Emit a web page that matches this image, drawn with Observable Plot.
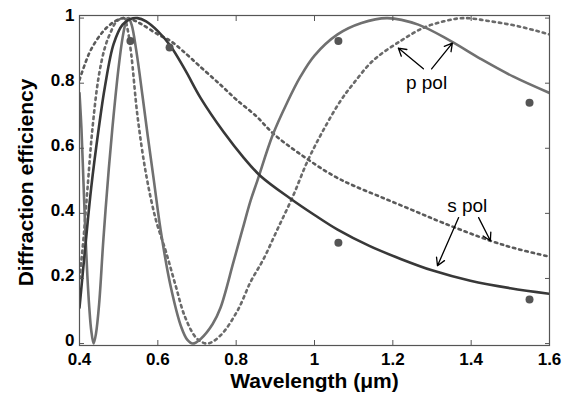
<!DOCTYPE html>
<html>
<head>
<meta charset="utf-8">
<script src="https://cdn.jsdelivr.net/npm/d3@7"></script>
<script src="https://cdn.jsdelivr.net/npm/@observablehq/plot@0.6"></script>
<style>
  html, body { margin: 0; padding: 0; background: white; }
</style>
</head>
<body>
<div id="chart"></div>
<script>
// wavelength (µm), diffraction efficiency
const sSolid = [[0.4,0.11],[0.415,0.3],[0.43,0.48],[0.449,0.66],[0.465,0.79],[0.487,0.92],[0.51,0.98],[0.53,0.997],[0.548,1.0],[0.57,0.99],[0.6,0.96],[0.632,0.915],[0.67,0.84],[0.709,0.755],[0.768,0.65],[0.82,0.57],[0.862,0.515],[0.939,0.445],[1.0,0.395],[1.059,0.35],[1.14,0.3],[1.22,0.26],[1.3,0.225],[1.398,0.193],[1.5,0.17],[1.6,0.153]];
const sDotted = [[0.4,0.81],[0.428,0.9],[0.461,0.96],[0.49,0.99],[0.512,1.0],[0.535,0.995],[0.56,0.98],[0.6,0.95],[0.632,0.93],[0.663,0.9],[0.709,0.85],[0.76,0.795],[0.8,0.75],[0.85,0.7],[0.895,0.645],[0.96,0.585],[1.049,0.515],[1.1,0.485],[1.17,0.45],[1.25,0.41],[1.33,0.37],[1.449,0.316],[1.52,0.29],[1.6,0.267]];
const pSolid = [[0.4,0.77],[0.405,0.66],[0.41,0.5],[0.415,0.34],[0.42,0.21],[0.425,0.11],[0.43,0.04],[0.436,0.0],[0.442,0.03],[0.45,0.12],[0.461,0.32],[0.475,0.54],[0.487,0.7],[0.5,0.85],[0.51,0.94],[0.518,0.985],[0.525,1.0],[0.533,0.98],[0.545,0.9],[0.561,0.76],[0.574,0.64],[0.59,0.5],[0.607,0.35],[0.632,0.18],[0.66,0.05],[0.675,0.012],[0.689,0.0],[0.71,0.015],[0.74,0.06],[0.76,0.11],[0.793,0.25],[0.816,0.35],[0.837,0.44],[0.854,0.5],[0.893,0.64],[0.93,0.74],[0.964,0.82],[1.0,0.885],[1.059,0.95],[1.12,0.985],[1.186,1.0],[1.265,0.98],[1.347,0.93],[1.424,0.875],[1.508,0.82],[1.6,0.77]];
const pDotted = [[0.4,0.2],[0.41,0.32],[0.42,0.47],[0.433,0.66],[0.449,0.82],[0.465,0.91],[0.479,0.955],[0.495,0.99],[0.514,1.0],[0.522,0.97],[0.532,0.89],[0.548,0.7],[0.57,0.52],[0.595,0.38],[0.62,0.285],[0.645,0.18],[0.67,0.08],[0.7,0.015],[0.727,0.0],[0.76,0.025],[0.803,0.1],[0.837,0.19],[0.87,0.26],[0.905,0.35],[0.944,0.45],[0.982,0.56],[1.02,0.65],[1.066,0.745],[1.1,0.8],[1.15,0.87],[1.22,0.93],[1.278,0.97],[1.33,0.99],[1.38,1.0],[1.45,0.99],[1.52,0.975],[1.6,0.95]];
const measured = [[0.53,0.93],[0.63,0.91],[1.061,0.93],[1.061,0.31],[1.549,0.74],[1.549,0.135]];

const xTicks = [0.4, 0.6, 0.8, 1, 1.2, 1.4, 1.6];
const yTicks = [0, 0.2, 0.4, 0.6, 0.8, 1];
const xLabel = "Wavelength (μm)";
const yLabel = "Diffraction efficiency";

const notes = [{x: 1.286, y: 0.80, text: "p pol"}, {x: 1.39, y: 0.423, text: "s pol"}];
const arrows = [[1.278,0.844,1.214,0.908],[1.299,0.844,1.352,0.923],[1.368,0.387,1.314,0.239],[1.419,0.387,1.449,0.316]];

const fmt = d3.format("~g");
const lineOpts = {x: d => d[0], y: d => d[1], curve: "catmull-rom", clip: true};

const chart = Plot.plot({
  width: 571,
  height: 397,
  marginLeft: 79,
  marginRight: 22,
  marginTop: 15,
  marginBottom: 52,
  x: {domain: [0.4, 1.6]},
  y: {domain: [-0.006, 1.008]},
  style: {fontFamily: "'Liberation Sans', Arial, sans-serif", background: "white", color: "black"},
  marks: [
    Plot.line(pDotted, {...lineOpts, stroke: "#6a6a6a", strokeWidth: 2.6, strokeDasharray: "2.4,4"}),
    Plot.line(sDotted, {...lineOpts, stroke: "#5a5a5a", strokeWidth: 2.6, strokeDasharray: "2.4,4"}),
    Plot.line(pSolid, {...lineOpts, stroke: "#707070", strokeWidth: 2.6}),
    Plot.line(sSolid, {...lineOpts, stroke: "#383838", strokeWidth: 2.6}),
    Plot.dot(measured, {x: d => d[0], y: d => d[1], r: 4, fill: "#555", stroke: "none"}),
    Plot.arrow(arrows, {x1: d => d[0], y1: d => d[1], x2: d => d[2], y2: d => d[3], stroke: "black", strokeWidth: 1.3, headLength: 10}),
    Plot.text(notes, {x: "x", y: "y", text: "text", fontSize: 19, fill: "black"}),
    Plot.frame({stroke: "#555", strokeWidth: 1.2}),
    Plot.axisX(xTicks, {anchor: "bottom", tickSize: -5, tickPadding: 12, tickFormat: fmt, fontSize: 17, fontWeight: "bold", label: null, stroke: "#555"}),
    Plot.axisX(xTicks, {anchor: "top", tickSize: -5, tickFormat: () => "", label: null, stroke: "#555"}),
    Plot.axisY(yTicks, {anchor: "left", tickSize: -5, tickFormat: () => "", label: null, stroke: "#555"}),
    Plot.axisY(yTicks, {anchor: "left", tickSize: 0, tickPadding: 5, dy: -3, tickFormat: fmt, fontSize: 17, fontWeight: "bold", label: null, stroke: "none"}),
    Plot.axisY(yTicks, {anchor: "right", tickSize: -5, tickFormat: () => "", label: null, stroke: "#555"}),
    Plot.text([xLabel], {frameAnchor: "bottom", dy: 42, text: d => d, fontSize: 21, fontWeight: "bold", fill: "black"}),
    Plot.text([yLabel], {frameAnchor: "left", dx: -53, dy: 2, rotate: -90, textAnchor: "middle", text: d => d, fontSize: 21, fontWeight: "bold", fill: "black"})
  ]
});
document.getElementById("chart").appendChild(chart);
</script>
</body>
</html>
